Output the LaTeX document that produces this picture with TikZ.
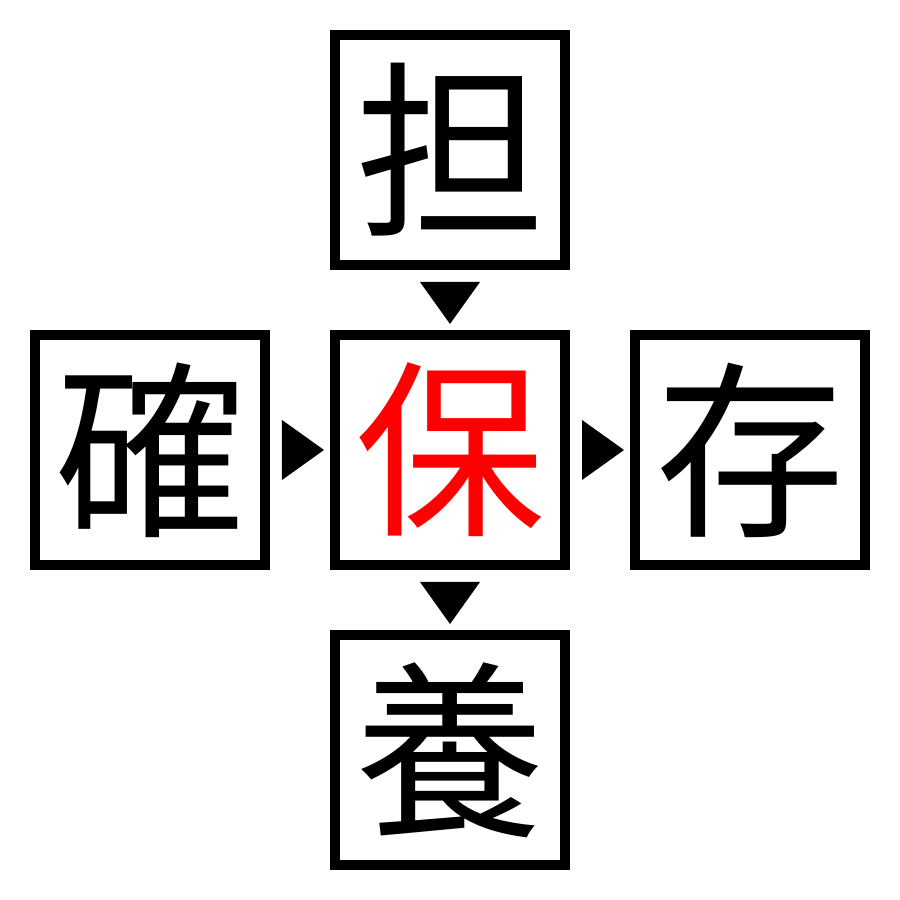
\documentclass[tikz,border=0pt]{standalone}
\usepackage{fontspec}
\newfontfamily\cjk{Noto Sans CJK JP}
\usetikzlibrary{positioning,calc}

\begin{document}
\begin{tikzpicture}[
    node distance=0.6cm,
    kanji/.style={rectangle, draw=black, line width=0.1cm, minimum size=2.3cm, inner sep=0pt, font=\cjk\fontsize{54}{54}\selectfont},
    marker/.style={fill=black}
]
\useasboundingbox (0,0) rectangle (9,9);

% Central character
\node[kanji, text=red] (center) at (4.5,4.5) {保};

% Surrounding characters
\node[kanji, above=of center] (top) {担};
\node[kanji, below=of center] (bottom) {養};
\node[kanji, left=of center] (left) {確};
\node[kanji, right=of center] (right) {存};

% Markers between boxes
\fill[marker] ($(top.south)+(-0.3,-0.12)$) -- ++(0.6,0) -- ++(-0.3,-0.42) -- cycle;
\fill[marker] ($(center.south)+(-0.3,-0.12)$) -- ++(0.6,0) -- ++(-0.3,-0.42) -- cycle;
\fill[marker] ($(left.east)+(0.12,0.3)$) -- ++(0,-0.6) -- ++(0.42,0.3) -- cycle;
\fill[marker] ($(center.east)+(0.12,0.3)$) -- ++(0,-0.6) -- ++(0.42,0.3) -- cycle;

\end{tikzpicture}
\end{document}
